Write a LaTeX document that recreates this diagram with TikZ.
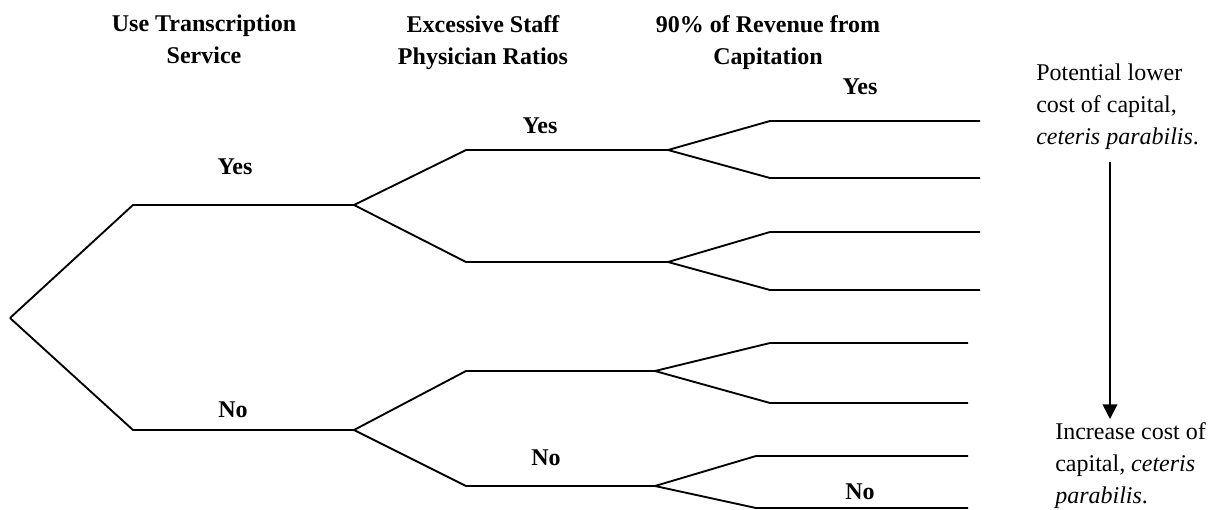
\documentclass[tikz,border=0pt]{standalone}
\usepackage{fontspec}
\setmainfont{Liberation Serif}
\usetikzlibrary{arrows.meta}
\begin{document}
\begin{tikzpicture}[x=0.75pt,y=-0.75pt]
\tikzset{branche/.style={draw, line width=1.4pt, line join=miter},
  titre/.style={font=\fontsize{18}{24}\selectfont\bfseries, align=center, anchor=north, inner sep=0pt},
  reponse/.style={font=\fontsize{18}{22}\selectfont\bfseries},
  remarque/.style={font=\fontsize{18}{24}\selectfont, align=left, anchor=north west, inner sep=0pt}}
\useasboundingbox (0,0) rectangle (1210,510);
\node[titre] (T1) at (204,15) {Use Transcription\\Service};
\node[titre] (T2) at (483,15) {Excessive Staff\\Physician Ratios};
\node[titre] (T3) at (768,15) {90\% of Revenue from\\Capitation};
\coordinate (R) at (10,318);
\coordinate (Y) at (354,205);
\coordinate (N) at (354,430);
\coordinate (YY) at (668,150);
\coordinate (YN) at (668,262);
\coordinate (NY) at (655,371);
\coordinate (NN) at (655,486);
\coordinate (YYY) at (980,121);
\coordinate (YYN) at (980,178);
\coordinate (YNY) at (980,232);
\coordinate (YNN) at (980,290);
\coordinate (NYY) at (968,343);
\coordinate (NYN) at (968,403);
\coordinate (NNY) at (968,456);
\coordinate (NNN) at (968,508);
\draw[branche] (R) -- (133,205) -- (Y);
\draw[branche] (R) -- (133,430) -- (N);
\draw[branche] (Y) -- (466,150) -- (YY);
\draw[branche] (Y) -- (466,262) -- (YN);
\draw[branche] (N) -- (466,371) -- (NY);
\draw[branche] (N) -- (466,486) -- (NN);
\draw[branche] (YY) -- (770,121) -- (YYY);
\draw[branche] (YY) -- (770,178) -- (YYN);
\draw[branche] (YN) -- (770,232) -- (YNY);
\draw[branche] (YN) -- (770,290) -- (YNN);
\draw[branche] (NY) -- (770,343) -- (NYY);
\draw[branche] (NY) -- (770,403) -- (NYN);
\draw[branche] (NN) -- (756,456) -- (NNY);
\draw[branche] (NN) -- (756,508) -- (NNN);
\node[reponse] (L1) at (235,167) {Yes};
\node[reponse] (L2) at (540,126) {Yes};
\node[reponse] (L3) at (860,87) {Yes};
\node[reponse] (L4) at (233,410) {No};
\node[reponse] (L5) at (546,458) {No};
\node[reponse] (L6) at (860,492) {No};
\node[remarque] (haut) at (1036,64) {Potential lower\\cost of capital,\\\textit{ceteris parabilis}.};
\node[remarque] (bas) at (1055,422) {Increase cost of\\capital, \textit{ceteris}\\\textit{parabilis}.};
\coordinate (F1) at (1110,162);
\coordinate (F2) at (1110,419);
\draw[line width=1.4pt, -{Triangle[length=11pt, width=11pt]}] (F1) -- (F2);
\end{tikzpicture}
\end{document}
